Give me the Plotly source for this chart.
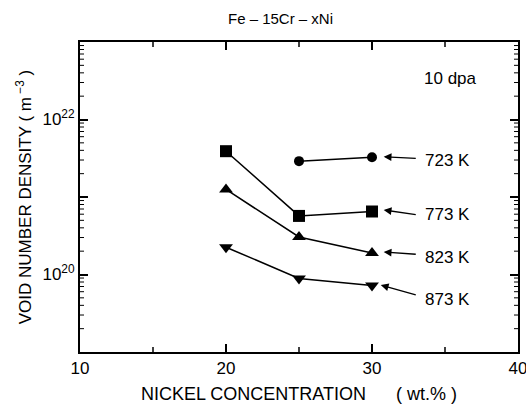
import math
import plotly.graph_objects as go

nickel = [20, 25, 30]
temps = ["723 K", "773 K", "823 K", "873 K"]
x_723 = [25, 30]
y_723 = [2.9e21, 3.25e21]
x_773 = [20, 25, 30]
y_773 = [3.9e21, 5.7e20, 6.5e20]
x_823 = [20, 25, 30]
y_823 = [1.25e21, 3.05e20, 1.9e20]
x_873 = [20, 25, 30]
y_873 = [2.25e20, 8.9e19, 7.2e19]

y_ticks = [1e19, 1e20, 1e21, 1e22, 1e23]
y_ticktext = ["", "10<sup>20</sup>", "", "10<sup>22</sup>", ""]
minor_x = [15.0, 25.0, 35.0]
minor_y = [float(k) * 10.0 ** e for e in range(19, 23) for k in range(2, 10)]
Y_LOG_RANGE = [19, 23]

# arrow geometry (tail -> tip) and label anchors in data coords
arrow_tip = [(30.8, 3.3e21), (30.8, 6.8e20), (30.8, 1.95e20), (30.6, 7.3e19)]
arrow_tail = [(33.1, 3.15e21), (33.1, 5.9e20), (33.1, 1.82e20), (33.1, 5.4e19)]
label_pos = [(33.5, 2.95e21), (33.5, 5.9e20), (33.5, 1.67e20), (33.5, 4.7e19)]

font = "Liberation Sans, Arial, sans-serif"
fig = go.Figure()

series = [
    (x_723, y_723, "circle", 10),
    (x_773, y_773, "square", 12),
    (x_823, y_823, "triangle-up", 12),
    (x_873, y_873, "triangle-down", 12),
]
for (xs, ys, sym, sz), name in zip(series, temps):
    fig.add_trace(go.Scatter(
        x=xs, y=ys, mode="lines+markers", name=name,
        line=dict(color="black", width=1.5),
        marker=dict(symbol=sym, size=sz, color="black"),
        showlegend=False,
    ))

for name, tip, tail, lp in zip(temps, arrow_tip, arrow_tail, label_pos):
    fig.add_annotation(
        x=tip[0], y=math.log10(tip[1]), ax=tail[0], ay=math.log10(tail[1]),
        xref="x", yref="y", axref="x", ayref="y",
        text="", showarrow=True, arrowhead=2, arrowsize=1.2, arrowwidth=1.3,
        arrowcolor="black",
    )
    fig.add_annotation(
        x=lp[0], y=math.log10(lp[1]), xref="x", yref="y", text=name,
        showarrow=False, xanchor="left", yanchor="middle",
        font=dict(family=font, size=17, color="black"),
    )

fig.add_annotation(
    x=33.4, y=math.log10(3.4e22), xref="x", yref="y", text="10 dpa",
    showarrow=False, xanchor="left", yanchor="middle",
    font=dict(family=font, size=17, color="black"),
)
fig.add_annotation(
    x=(280 - 80) / 438, y=1 + (42 - 18) / 310, xref="paper", yref="paper",
    text="Fe – 15Cr – xNi", showarrow=False, xanchor="center", yanchor="middle",
    font=dict(family=font, size=15, color="black"),
)

# minor ticks (inside, on all four sides)
tick_line = dict(color="black", width=1.5)
for v in minor_x:
    fig.add_shape(type="line", xref="x", yref="paper", x0=v, x1=v,
                  y0=0, y1=5 / 310, line=tick_line)
    fig.add_shape(type="line", xref="x", yref="paper", x0=v, x1=v,
                  y0=1, y1=1 - 5 / 310, line=tick_line)
for v in minor_y:
    f = (math.log10(v) - Y_LOG_RANGE[0]) / (Y_LOG_RANGE[1] - Y_LOG_RANGE[0])
    fig.add_shape(type="line", xref="paper", yref="paper", x0=0, x1=4 / 438,
                  y0=f, y1=f, line=dict(color="black", width=1))
    fig.add_shape(type="line", xref="paper", yref="paper", x0=1,
                  x1=1 - 4 / 438, y0=f, y1=f,
                  line=dict(color="black", width=1))

axis_common = dict(showgrid=False, zeroline=False, showline=True, linewidth=2,
                   linecolor="black", mirror="allticks", tickcolor="black",
                   ticks="inside", ticklabeloverflow="allow")

fig.update_layout(
    template="none",
    width=526, height=406,
    margin=dict(l=80, r=8, t=42, b=54),
    paper_bgcolor="white", plot_bgcolor="white",
    font=dict(family=font, size=15, color="black"),
    xaxis=dict(
        range=[10, 40], tickmode="linear", tick0=10, dtick=10,
        ticklen=8, tickwidth=1.5, tickfont=dict(size=17),
        title=dict(text="NICKEL CONCENTRATION      ( wt.% )",
                   font=dict(size=18), standoff=10),
        **axis_common,
    ),
    yaxis=dict(
        type="log", range=Y_LOG_RANGE, tickmode="array", tickvals=y_ticks,
        ticktext=y_ticktext, ticklen=8, tickwidth=1.5,
        tickfont=dict(size=17),
        title=dict(text="VOID NUMBER DENSITY ( m<sup> −3</sup> )",
                   font=dict(size=17), standoff=6),
        **axis_common,
    ),
)

fig.write_html("out.html")
